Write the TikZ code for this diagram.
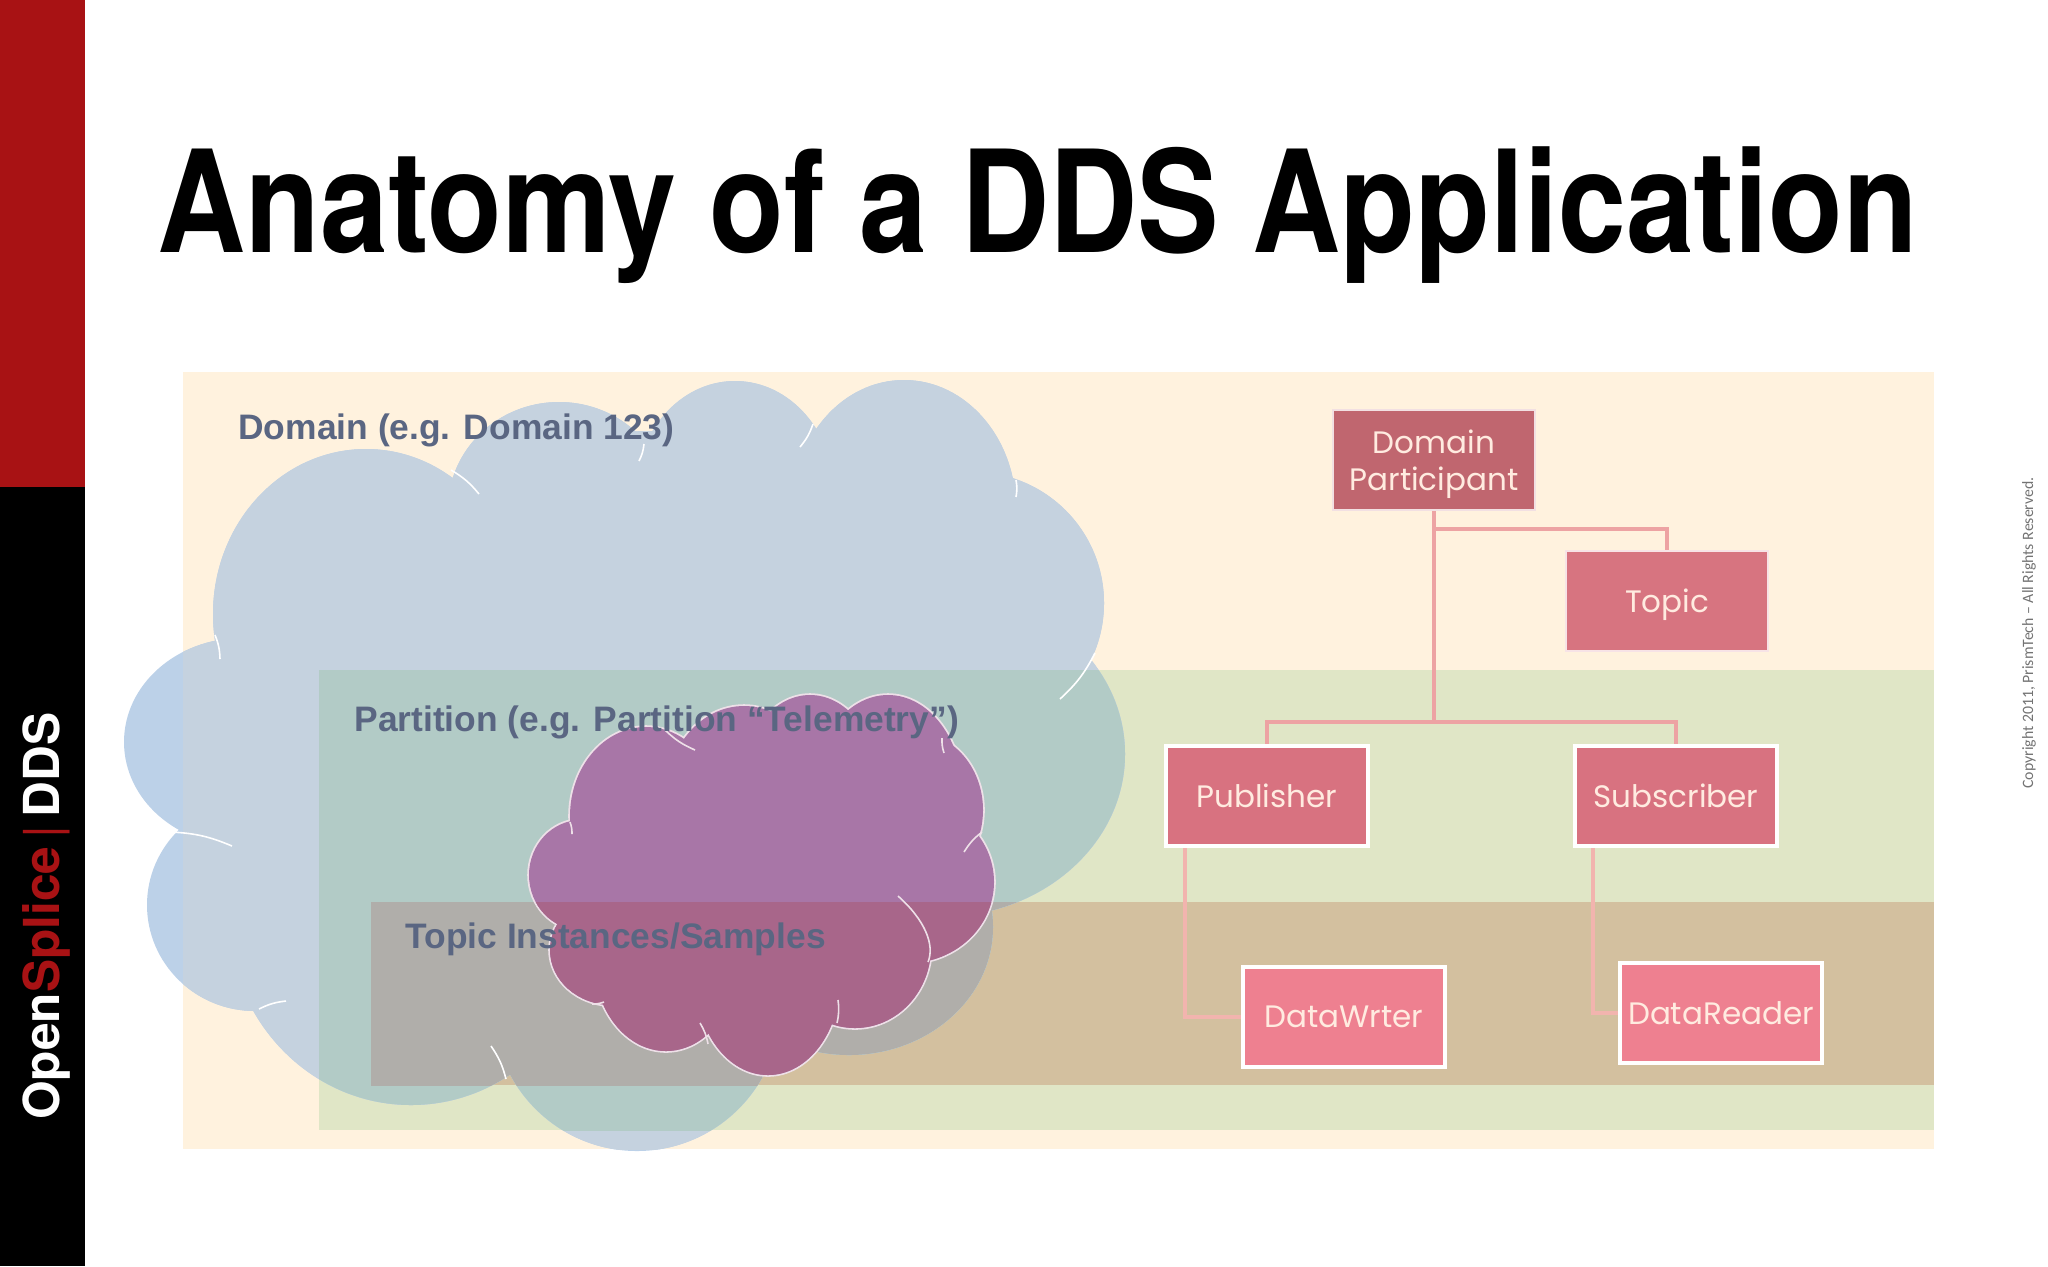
\documentclass[tikz,border=0pt]{standalone}
\usepackage{fontspec}
\setmainfont{Liberation Sans}
\newfontfamily\titlefont[FakeStretch=0.86]{TeX Gyre Heros}
\newfontfamily\boxfont{Poppins}
\newfontfamily\sidefont{TeX Gyre Heros}
\newfontfamily\notefont{Carlito}
\definecolor{sidered}{HTML}{A81214}
\definecolor{domainbg}{HTML}{FFF2DE}
\definecolor{partbg}{HTML}{E0E6C6}
\definecolor{topicbg}{HTML}{D3C09F}
\definecolor{cloudw}{HTML}{BCD1E8}
\definecolor{cloudd}{HTML}{C5D2DF}
\definecolor{cloudp}{HTML}{B2CBC6}
\definecolor{cloudt}{HTML}{B0AEAA}
\definecolor{purplep}{HTML}{A876A7}
\definecolor{purplet}{HTML}{A8668A}
\definecolor{labelgray}{HTML}{5A6682}
\definecolor{boxtext}{HTML}{FFEBE0}
\definecolor{linkpink}{HTML}{EDA3A3}
\definecolor{linklight}{HTML}{F2B4AE}
\definecolor{dpred}{HTML}{C0666F}
\definecolor{topicred}{HTML}{D77480}
\definecolor{pubred}{HTML}{D87280}
\definecolor{rwred}{HTML}{EE8090}
\tikzset{
    entity/.style={draw=#1!20!white,fill=#1,line width=1pt,minimum width=101pt,minimum height=50pt,inner sep=0pt,
        text=boxtext,text depth=0pt,align=center,font=\boxfont\fontsize{15.5}{18.5}\selectfont},
    entity/.default=black,
    framed/.style={draw=white,line width=2pt},
    layer/.style={anchor=base west,text=labelgray,inner sep=0pt,font=\bfseries\fontsize{17.7}{20}\selectfont},
    link/.style={draw=linkpink,line width=2pt},
    sublink/.style={draw=linklight,line width=2pt}
}
\newcommand{\bigcloud}[1]{
    \foreach \cx/\cy/\rx/\ry in {366/614/153/165,559/509/111/107,735/496/100/115,904/509/112/129,973/603/131/131,
        940/754/185/163,242/742/118/104,255/905/108/106,411/914/183/191,637/1006/144/145,849/927/144/128,653/718/366/287}
        \fill[#1] (\cx,\cy) ellipse [x radius=\rx,y radius=\ry];
}
\newcommand{\smallcloud}[1]{
    \foreach \cx/\cy/\rx/\ry in {646/816/76/89,744/797/78/91,810/790/70/95,888/795/75/100,914/810/69/78,
        908/882/86/81,581/875/52/55,612/950/62/55,666/960/72/91,768/980/72/95,855/947/76/81,771/875/170/144}
        \path[#1] (\cx,\cy) ellipse [x radius=\rx,y radius=\ry];
}
\begin{document}
\begin{tikzpicture}[x=.5pt,y=-.5pt]
    \useasboundingbox (0,0) rectangle (2048,1266);
    % side bar
    \fill[sidered] (0,0) rectangle (85,487);
    \fill[black] (0,487) rectangle (85,1266);
    \node[rotate=90,anchor=base west,inner sep=0pt,text=white,font=\sidefont\bfseries\fontsize{24.8}{27}\selectfont] (Side) at (59,1120) {Open\textcolor{sidered}{Splice\,{\mdseries|}}\,DDS};
    \node[anchor=base west,inner sep=0pt,font=\titlefont\bfseries\fontsize{71}{80}\selectfont] (Title) at (157,252) {Anatomy of a DDS Application};
    \node[rotate=90,anchor=base west,inner sep=0pt,text=black!55,font=\notefont\fontsize{7.9}{8}\selectfont] (Note) at (2033,789) {Copyright 2011, PrismTech – All Rights Reserved.};

    % layers
    \fill[domainbg] (183,372) rectangle (1934,1149);
    \fill[partbg] (319,670) rectangle (1934,1130);
    \fill[topicbg] (371,902) rectangle (1934,1085);

    % big cloud, one colour per layer
    \bigcloud{cloudw}
    \begin{scope}
        \clip (183,372) rectangle (1934,1149);
        \bigcloud{cloudd}
    \end{scope}
    \begin{scope}
        \clip (319,670) rectangle (1934,1130);
        \bigcloud{cloudp}
    \end{scope}
    \begin{scope}
        \clip (371,902) rectangle (1934,1085);
        \bigcloud{cloudt}
    \end{scope}
    \foreach \xa/\ya/\xb/\yb in {451/470/479/494,644/444/639/461,813/424/800/447,1016/480/1016/497,1095/653/1060/699,
        215/635/220/659,171/832/232/846,259/1009/286/1001,491/1046/506/1079}
        \draw[white,line width=.8pt] (\xa,\ya) to[bend left=10] (\xb,\yb);

    % small cloud
    \smallcloud{draw=white!80!purplet,line width=1.8pt}
    \smallcloud{fill=purplep}
    \begin{scope}
        \clip (371,902) rectangle (1934,1085);
        \smallcloud{fill=purplet}
    \end{scope}
    \foreach \xa/\ya/\xb/\yb in {695/750/665/730,944/753/942/738,964/852/982/832,838/1000/837/1023,700/1023/708/1044,604/1002/592/1004,570/822/572/834}
        \draw[white!80!purplet,line width=.8pt] (\xa,\ya) to[bend left=10] (\xb,\yb);
    \draw[white!80!purplet,line width=.8pt] (898,896) .. controls (925,920) and (935,945) .. (928,962);

    \node[layer] (Domain) at (238,439) {Domain (e.g. Domain 123)};
    \node[layer] (Partition) at (354,731) {Partition (e.g. Partition ``Telemetry'')};
    \node[layer] (Samples) at (405,948) {Topic Instances/Samples};

    % entities
    \node[entity={dpred}] (DP) at (1434,460) {Domain\\Participant};
    \node[entity={topicred}] (Topic) at (1667,601) {Topic};
    \node[entity={pubred},framed] (Pub) at (1267,796) {Publisher};
    \node[entity={pubred},framed] (Sub) at (1676,796) {Subscriber};
    \node[entity={rwred},framed] (Writer) at (1344,1017) {DataWrter};
    \node[entity={rwred},framed] (Reader) at (1721,1013) {DataReader};

    \coordinate (J1) at (DP.south |- 0,722);
    \coordinate (J2) at (DP.south |- 0,529);
    \coordinate (P1) at (1185,848);
    \coordinate (S1) at (1593,848);
    \path[link] (DP) -- (J1);
    \path[link] (J2) -| (Topic.north);
    \path[link] (J1) -| (Pub.north);
    \path[link] (J1) -| (Sub.north);
    \path[sublink] (P1) |- (Writer.west);
    \path[sublink] (S1) |- (Reader.west);
\end{tikzpicture}
\end{document}
